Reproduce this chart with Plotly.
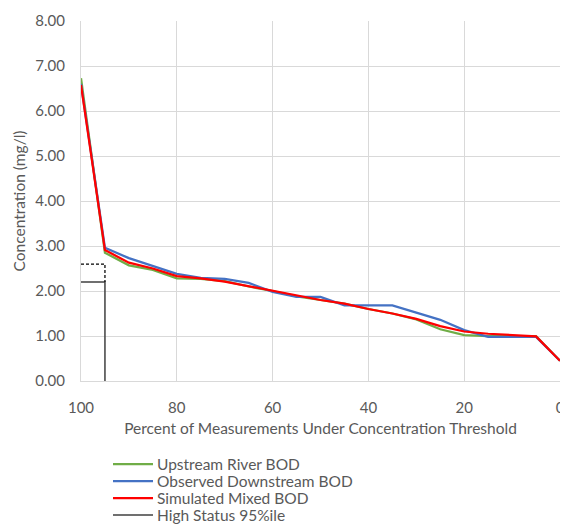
import plotly.graph_objects as go

percent = [100, 95, 90, 85, 80, 75, 70, 65, 60, 55, 50, 45, 40, 35, 30, 25, 20, 15, 10, 5, 0]
upstream = [6.73, 2.85, 2.57, 2.47, 2.28, 2.27, 2.22, 2.1, 2.0, 1.88, 1.8, 1.72, 1.6, 1.5, 1.37, 1.15, 1.02, 1.0, 1.0, 1.0, 0.45]
observed = [6.6, 2.96, 2.73, 2.56, 2.38, 2.29, 2.27, 2.18, 1.98, 1.87, 1.87, 1.68, 1.68, 1.68, 1.52, 1.36, 1.13, 0.98, 0.98, 0.98, 0.45]
simulated = [6.58, 2.91, 2.63, 2.5, 2.33, 2.28, 2.21, 2.11, 2.0, 1.9, 1.8, 1.72, 1.6, 1.5, 1.38, 1.22, 1.1, 1.05, 1.02, 0.99, 0.45]

hs_solid_x = [95, 95, 100]
hs_solid_y = [0, 2.2, 2.2]
hs_dash_x = [100, 95, 95]
hs_dash_y = [2.6, 2.6, 2.2]

y_ticks = [0, 1, 2, 3, 4, 5, 6, 7, 8]
x_ticks = [100, 80, 60, 40, 20, 0]

series_names = ["Upstream River BOD", "Observed Downstream BOD", "Simulated Mixed BOD", "High Status 95%ile"]
series_colors = ["#70ad47", "#4472c4", "#ff0000", "#404040"]

font_family = "Lato, 'Open Sans', sans-serif"
text_color = "#595959"

# the page body adds an 8px offset; positions below are in screenshot pixels
OFF = 8
W, H = 568, 531
ML, MT = 81 - OFF, 21 - OFF
MR = W - (560 - OFF)
MB = H - (381 - OFF)
PW, PH = W - ML - MR, H - MT - MB


def px_x(p):
    return (p - OFF - ML) / PW


def px_y(p):
    return (H - MB - (p - OFF)) / PH


fig = go.Figure()
fig.add_trace(go.Scatter(x=percent, y=upstream, mode="lines", name=series_names[0],
                         line=dict(color=series_colors[0], width=2.25)))
fig.add_trace(go.Scatter(x=percent, y=observed, mode="lines", name=series_names[1],
                         line=dict(color=series_colors[1], width=2.25)))
fig.add_trace(go.Scatter(x=percent, y=simulated, mode="lines", name=series_names[2],
                         line=dict(color=series_colors[2], width=2.25)))
fig.add_trace(go.Scatter(x=hs_solid_x, y=hs_solid_y, mode="lines", name=series_names[3],
                         line=dict(color=series_colors[3], width=1.5)))
fig.add_trace(go.Scatter(x=hs_dash_x, y=hs_dash_y, mode="lines", showlegend=False,
                         line=dict(color="#000000", width=1.25, dash="3px,2px")))

# custom legend (keys + real text), laid out like the original
shapes = []
annotations = []
for i, (name, color) in enumerate(zip(series_names, series_colors)):
    row_y = 464 + 17 * i
    shapes.append(dict(type="line", xref="paper", yref="paper",
                       x0=px_x(113), x1=px_x(153), y0=px_y(row_y), y1=px_y(row_y),
                       line=dict(color=color, width=2.25 if i < 3 else 1.5)))
    annotations.append(dict(xref="paper", yref="paper", x=px_x(155), y=px_y(row_y),
                            xanchor="left", yanchor="middle", text=name, showarrow=False,
                            font=dict(size=15.5, color=text_color, family=font_family)))

fig.update_layout(
    width=W, height=H,
    margin=dict(l=ML, r=MR, t=MT, b=MB, autoexpand=False),
    paper_bgcolor="white", plot_bgcolor="white",
    font=dict(family=font_family, size=15, color=text_color),
    showlegend=False,
    shapes=shapes,
    annotations=annotations,
    xaxis=dict(range=[100, 0], tickvals=x_ticks, ticktext=[str(v) for v in x_ticks],
               showgrid=True, gridcolor="#d9d9d9", gridwidth=1, zeroline=False,
               showline=True, linecolor="#d9d9d9", ticks="", ticklabelstandoff=13,
               automargin=False,
               title=dict(text="Percent of Measurements Under Concentration Threshold",
                          font=dict(size=15.5, color=text_color), standoff=8),
               tickfont=dict(size=15, color=text_color)),
    yaxis=dict(range=[0, 8], tickvals=y_ticks, ticktext=["%.2f" % v for v in y_ticks],
               showgrid=True, gridcolor="#d9d9d9", gridwidth=1, zeroline=False,
               showline=True, linecolor="#d9d9d9", ticks="", ticklabelstandoff=12,
               automargin=False,
               title=dict(text="Concentration (mg/l)", font=dict(size=15.5, color=text_color), standoff=5),
               tickfont=dict(size=15, color=text_color)),
)

fig.write_html("out.html")
